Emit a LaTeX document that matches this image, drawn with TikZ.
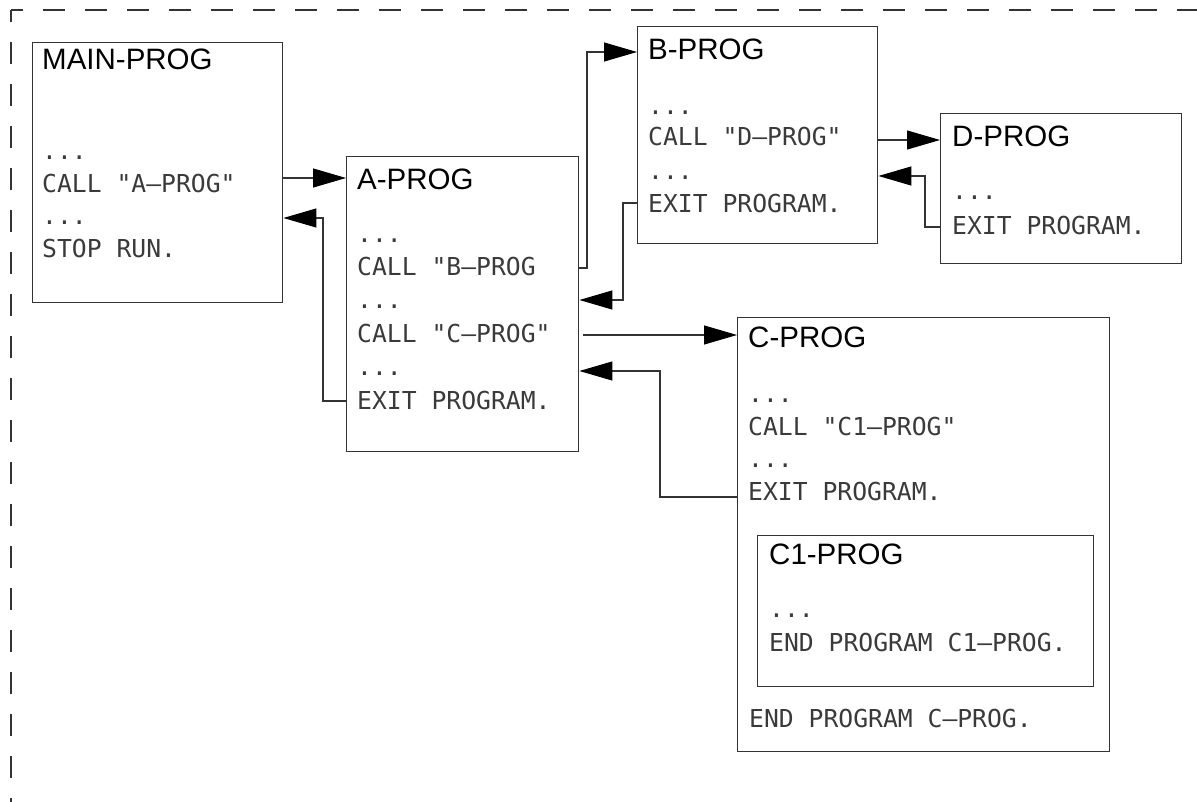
\documentclass[tikz,border=0pt]{standalone}
\usepackage{fontspec}
\setmainfont{Liberation Sans}
\newfontfamily\monof{DejaVu Sans Mono}
\usetikzlibrary{arrows.meta}
\definecolor{linegray}{HTML}{333333}
\definecolor{textgray}{HTML}{3A3A3A}
\begin{document}
\begin{tikzpicture}[x=1pt,y=-1pt,
  progbox/.style={draw=linegray, line width=1.4pt, inner sep=0pt, anchor=north west},
  ttl/.style={anchor=base west, inner sep=0pt, font=\fontsize{29.5}{30}\selectfont, text=black},
  code/.style={anchor=base west, inner sep=0pt, font=\monof\fontsize{24.7}{26}\selectfont, text=textgray},
  conn/.style={draw=linegray, line width=1.1pt},
  arr/.style={conn, -{Triangle[length=33pt, width=19pt, color=black, fill=black]}},
  frame/.style={draw=linegray, line width=1.1pt, dash pattern=on 22pt off 20pt, dash phase=10pt}
]
\useasboundingbox (0,0) rectangle (1197,802);
% dashed frame
\coordinate (fc) at (11,10);
\coordinate (fr) at (1197,10);
\coordinate (fb) at (11,802);
\draw[frame] (fc) -- (fr);
\draw[frame] (fc) -- (fb);

% boxes
\node[progbox, minimum width=250pt, minimum height=260pt] (main) at (32,42) {};
\node[progbox, minimum width=232pt, minimum height=295pt] (A) at (346,156) {};
\node[progbox, minimum width=240pt, minimum height=217pt] (B) at (637,26) {};
\node[progbox, minimum width=241pt, minimum height=150pt] (D) at (940,113) {};
\node[progbox, minimum width=372pt, minimum height=434pt] (C) at (737,317) {};
\node[progbox, minimum width=336pt, minimum height=151pt] (C1) at (757,535) {};

% MAIN-PROG
\node[ttl] (mt) at (42,70) {MAIN-PROG};
\node[code] (m1) at (42,160) {...};
\node[code] (m2) at (42,193) {CALL "A{\textendash}PROG"};
\node[code] (m3) at (42,225) {...};
\node[code] (m4) at (42,258) {STOP RUN.};

% A-PROG
\node[ttl] (at) at (357,190) {A-PROG};
\node[code] (a1) at (357,243) {...};
\node[code] (a2) at (357,276) {CALL "B{\textendash}PROG};
\node[code] (a3) at (357,309) {...};
\node[code] (a4) at (357,343) {CALL "C{\textendash}PROG"};
\node[code] (a5) at (357,375) {...};
\node[code] (a6) at (357,409) {EXIT PROGRAM.};

% B-PROG
\node[ttl] (bt) at (648,60) {B-PROG};
\node[code] (b1) at (648,115) {...};
\node[code] (b2) at (648,146) {CALL "D{\textendash}PROG"};
\node[code] (b3) at (648,180) {...};
\node[code] (b4) at (648,213) {EXIT PROGRAM.};

% D-PROG
\node[ttl] (dt) at (952,147) {D-PROG};
\node[code] (d1) at (952,200) {...};
\node[code] (d2) at (952,235) {EXIT PROGRAM.};

% C-PROG
\node[ttl] (ct) at (748,348) {C-PROG};
\node[code] (c1) at (748,402) {...};
\node[code] (c2) at (748,435) {CALL "C1{\textendash}PROG"};
\node[code] (c3) at (748,467) {...};
\node[code] (c4) at (748,500) {EXIT PROGRAM.};
\node[code] (c5) at (749,727) {END PROGRAM C{\textendash}PROG.};

% C1-PROG
\node[ttl] (c1t) at (769,564) {C1-PROG};
\node[code] (k1) at (769,617) {...};
\node[code] (k2) at (769,651) {END PROGRAM C1{\textendash}PROG.};

% connector helper coordinates
\coordinate (y178) at (0,178);
\coordinate (y401) at (0,401);
\coordinate (y218) at (0,218);
\coordinate (x323) at (323,0);
\coordinate (y268) at (0,268);
\coordinate (x587) at (587,0);
\coordinate (y52) at (0,52);
\coordinate (y203) at (0,203);
\coordinate (x623) at (623,0);
\coordinate (y300) at (0,300);
\coordinate (y140) at (0,140);
\coordinate (y227) at (0,227);
\coordinate (x925) at (925,0);
\coordinate (y176) at (0,176);
\coordinate (cstart) at (583,335);
\coordinate (y497) at (0,497);
\coordinate (x660) at (660,0);
\coordinate (y371) at (0,371);

% connectors
\draw[arr] (main.east |- y178) -- (A.west |- y178);
\draw[arr] (A.west |- y401) -- (x323 |- y401) -- (x323 |- y218) -- (main.east |- y218);
\draw[arr] (A.east |- y268) -- (x587 |- y268) -- (x587 |- y52) -- (B.west |- y52);
\draw[arr] (B.west |- y203) -- (x623 |- y203) -- (x623 |- y300) -- (A.east |- y300);
\draw[arr] (B.east |- y140) -- (D.west |- y140);
\draw[arr] (D.west |- y227) -- (x925 |- y227) -- (x925 |- y176) -- (B.east |- y176);
\draw[arr] (cstart) -- (C.west |- cstart);
\draw[arr] (C.west |- y497) -- (x660 |- y497) -- (x660 |- y371) -- (A.east |- y371);
\end{tikzpicture}
\end{document}
